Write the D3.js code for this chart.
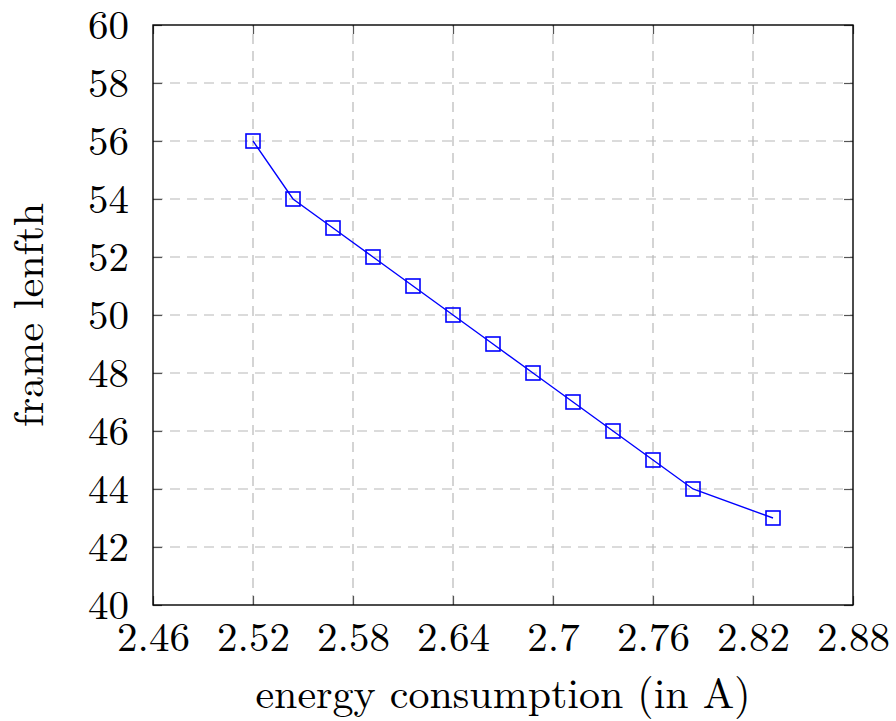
<!DOCTYPE html>
<html>
<head>
<meta charset="utf-8">
<script src="https://cdn.jsdelivr.net/npm/d3@7"></script>
<style>
  html, body { margin: 0; padding: 0; background: #fff; }
  svg text { font-family: "Latin Modern Roman", "CMU Serif", "Liberation Serif", serif; fill: #000; }
</style>
</head>
<body>
<div id="chart"></div>
<script>
// data
const energy = [2.52, 2.544, 2.568, 2.592, 2.616, 2.64, 2.664, 2.688, 2.712, 2.736, 2.76, 2.784, 2.832];
const frameLength = [56, 54, 53, 52, 51, 50, 49, 48, 47, 46, 45, 44, 43];
const xTicks = [2.46, 2.52, 2.58, 2.64, 2.7, 2.76, 2.82, 2.88];
const yTicks = [40, 42, 44, 46, 48, 50, 52, 54, 56, 58, 60];

const width = 896, height = 721;
const margin = { top: 25, right: 43, bottom: 116, left: 153 };

const svg = d3.select(`#chart`).append(`svg`)
    .attr(`width`, width)
    .attr(`height`, height);

const x = d3.scaleLinear()
    .domain([2.46, 2.88])
    .range([margin.left, width - margin.right]);
const y = d3.scaleLinear()
    .domain([40, 60])
    .range([height - margin.bottom, margin.top]);

const fmt = (d) => d3.format(`.2f`)(d).replace(/0$/, ``);

// grid
const grid = svg.append(`g`).attr(`class`, `grid`)
    .attr(`stroke`, `#b8b8b8`)
    .attr(`stroke-width`, 1.2)
    .attr(`stroke-dasharray`, `10,7`);
grid.selectAll(`line.v`)
    .data(xTicks.slice(1, -1))
  .enter().append(`line`)
    .attr(`x1`, (d) => x(d)).attr(`x2`, (d) => x(d))
    .attr(`y1`, y(40)).attr(`y2`, y(60));
grid.selectAll(`line.h`)
    .data(yTicks.slice(1, -1))
  .enter().append(`line`)
    .attr(`x1`, x(2.46)).attr(`x2`, x(2.88))
    .attr(`y1`, (d) => y(d)).attr(`y2`, (d) => y(d));

// axes with inward ticks on all four sides
const tick = 9;
const axisStyle = (g) => {
  g.select(`.domain`).remove();
  g.selectAll(`.tick line`).attr(`stroke`, `#555`).attr(`stroke-width`, 1.2);
  g.selectAll(`.tick text`).attr(`font-size`, 41).style(`font-family`, null);
};

svg.append(`g`)
    .attr(`transform`, `translate(0,${y(40)})`)
    .call(d3.axisBottom(x).tickValues(xTicks).tickFormat(fmt).tickSizeInner(-tick).tickSizeOuter(0).tickPadding(16))
    .call(axisStyle)
    .call((g) => g.selectAll(`.tick text`).attr(`dy`, `0.72em`));
svg.append(`g`)
    .attr(`transform`, `translate(0,${y(60)})`)
    .call(d3.axisTop(x).tickValues(xTicks).tickSizeInner(-tick).tickSizeOuter(0).tickFormat(``))
    .call(axisStyle);
svg.append(`g`)
    .attr(`transform`, `translate(${x(2.46)},0)`)
    .call(d3.axisLeft(y).tickValues(yTicks).tickSizeInner(-tick).tickSizeOuter(0).tickPadding(24))
    .call(axisStyle);
svg.append(`g`)
    .attr(`transform`, `translate(${x(2.88)},0)`)
    .call(d3.axisRight(y).tickValues(yTicks).tickSizeInner(-tick).tickSizeOuter(0).tickFormat(``))
    .call(axisStyle);

// frame
svg.append(`rect`)
    .attr(`x`, x(2.46)).attr(`y`, y(60))
    .attr(`width`, x(2.88) - x(2.46)).attr(`height`, y(40) - y(60))
    .attr(`fill`, `none`).attr(`stroke`, `#000`).attr(`stroke-width`, 1.4);

// series
const pts = energy.map((e, i) => [e, frameLength[i]]);
const line = d3.line().x((d) => x(d[0])).y((d) => y(d[1]));
svg.append(`path`)
    .datum(pts)
    .attr(`d`, line)
    .attr(`fill`, `none`)
    .attr(`stroke`, `#0000ff`)
    .attr(`stroke-width`, 1.4);

const m = 14;
svg.selectAll(`rect.marker`)
    .data(pts)
  .enter().append(`rect`)
    .attr(`class`, `marker`)
    .attr(`x`, (d) => x(d[0]) - m / 2)
    .attr(`y`, (d) => y(d[1]) - m / 2)
    .attr(`width`, m).attr(`height`, m)
    .attr(`fill`, `none`)
    .attr(`stroke`, `#0000ff`)
    .attr(`stroke-width`, 1.6);

// axis titles
svg.append(`text`)
    .attr(`x`, (x(2.46) + x(2.88)) / 2)
    .attr(`y`, 708)
    .attr(`text-anchor`, `middle`)
    .attr(`font-size`, 42)
    .text(`energy consumption (in A)`);
svg.append(`text`)
    .attr(`transform`, `translate(43,${(y(40) + y(60)) / 2}) rotate(-90)`)
    .attr(`text-anchor`, `middle`)
    .attr(`font-size`, 42)
    .text(`frame lenfth`);
</script>
</body>
</html>
